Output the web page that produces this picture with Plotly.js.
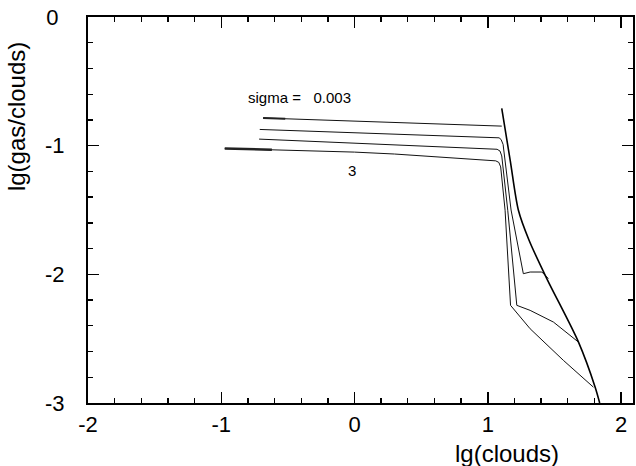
<!DOCTYPE html>
<html>
<head>
<meta charset="utf-8">
<script src="https://cdn.plot.ly/plotly-3.0.1.min.js"></script>
<style>html,body{margin:0;padding:0;background:#fff;}#chart{width:636px;height:466px;}</style>
</head>
<body>
<div id="chart"></div>
<script>
// curves for different sigma (top: sigma = 0.003, bottom: sigma = 3)
const c1x = [-0.686, -0.4, 0.0, 0.5, 1.0, 1.08, 1.105];
const c1y = [-0.785, -0.795, -0.808, -0.825, -0.843, -0.847, -0.848];

const c2x = [-0.711, -0.4, 0.0, 0.5, 1.0, 1.085, 1.10, 1.115, 1.175, 1.267, 1.318, 1.406, 1.455];
const c2y = [-0.874, -0.885, -0.900, -0.918, -0.935, -0.939, -0.952, -0.99, -1.50, -1.995, -1.982, -1.982, -2.033];

const c3x = [-0.716, -0.4, 0.0, 0.5, 1.0, 1.07, 1.092, 1.105, 1.150, 1.218, 1.318, 1.493, 1.681];
const c3y = [-0.949, -0.962, -0.978, -1.000, -1.022, -1.028, -1.042, -1.08, -1.502, -2.241, -2.280, -2.371, -2.527];

const c4x = [-0.974, -0.5, 0.0, 0.3, 0.7, 1.0, 1.06, 1.083, 1.097, 1.130, 1.171, 1.318, 1.568, 1.793];
const c4y = [-1.022, -1.035, -1.050, -1.065, -1.095, -1.112, -1.118, -1.13, -1.165, -1.502, -2.241, -2.423, -2.669, -2.877];

// noisy starting stretches (drawn thicker)
const n1x = [-0.686, -0.52];
const n1y = [-0.785, -0.790];
const n4x = [-0.974, -0.62];
const n4y = [-1.022, -1.032];

// limiting envelope
const ex = [1.105, 1.169, 1.230, 1.31, 1.443, 1.681, 1.806, 1.84];
const ey = [-0.711, -1.118, -1.502, -1.735, -2.033, -2.527, -2.877, -3.0];

const xTickVals = [-2, -1, 0, 1, 2];
const xTickText = ["-2", "-1", "0", "1", "2"];
const yTickVals = [-3, -2, -1, 0];
const yTickText = ["-3", "-2", "-1", "0\u00a0"];

const lineStyle = {color: '#111', width: 1};
const traces = [
  {x: c1x, y: c1y, mode: 'lines', line: lineStyle, hoverinfo: 'skip'},
  {x: c2x, y: c2y, mode: 'lines', line: lineStyle, hoverinfo: 'skip'},
  {x: c3x, y: c3y, mode: 'lines', line: lineStyle, hoverinfo: 'skip'},
  {x: c4x, y: c4y, mode: 'lines', line: lineStyle, hoverinfo: 'skip'},
  {x: n1x, y: n1y, mode: 'lines', line: {color: '#222', width: 2}, hoverinfo: 'skip'},
  {x: n4x, y: n4y, mode: 'lines', line: {color: '#222', width: 2.5}, hoverinfo: 'skip'},
  {x: ex, y: ey, mode: 'lines', line: {color: '#000', width: 1.6, shape: 'spline', smoothing: 0.8}, hoverinfo: 'skip'}
];

const font = {family: 'Liberation Sans, Arial, sans-serif', color: '#000'};

const layout = {
  width: 636, height: 466,
  margin: {l: 88, r: 3, t: 17, b: 63},
  paper_bgcolor: '#fff', plot_bgcolor: '#fff',
  showlegend: false,
  font: Object.assign({size: 22}, font),
  xaxis: {
    range: [-2, 2.09], tickvals: xTickVals, ticktext: xTickText,
    ticks: 'inside', ticklen: 11, tickwidth: 1.5, tickcolor: '#000',
    showline: true, linewidth: 2, linecolor: '#000', mirror: 'ticks',
    showgrid: false, zeroline: false,
    ticklabelstandoff: 1,
    tickfont: Object.assign({size: 22}, font),
    minor: {dtick: 0.2, tick0: 0, ticks: 'inside', ticklen: 5, tickwidth: 1.3, tickcolor: '#000', showgrid: false}
  },
  yaxis: {
    range: [-3, 0], tickvals: yTickVals, ticktext: yTickText,
    ticks: 'inside', ticklen: 11, tickwidth: 1.5, tickcolor: '#000',
    showline: true, linewidth: 2, linecolor: '#000', mirror: 'ticks',
    showgrid: false, zeroline: false,
    ticklabelstandoff: 17,
    tickfont: Object.assign({size: 22}, font),
    minor: {dtick: 0.2, tick0: 0, ticks: 'inside', ticklen: 5, tickwidth: 1.3, tickcolor: '#000', showgrid: false}
  },
  annotations: [
    {text: 'lg(clouds)', xref: 'paper', yref: 'paper', x: 0.769, y: -0.132, xanchor: 'center', yanchor: 'middle', showarrow: false, font: Object.assign({size: 24}, font)},
    {text: 'lg(gas/clouds)', xref: 'paper', yref: 'paper', x: -0.13, y: 0.741, xanchor: 'center', yanchor: 'middle', textangle: -90, showarrow: false, font: Object.assign({size: 24}, font)},
    {text: 'sigma =   0.003', xref: 'x', yref: 'y', x: -0.41, y: -0.623, xanchor: 'center', yanchor: 'middle', showarrow: false, font: Object.assign({size: 15}, font)},
    {text: '3', xref: 'x', yref: 'y', x: -0.021, y: -1.19, xanchor: 'center', yanchor: 'middle', showarrow: false, font: Object.assign({size: 15}, font)}
  ]
};

Plotly.newPlot('chart', traces, layout, {staticPlot: true, displayModeBar: false});
</script>
</body>
</html>
